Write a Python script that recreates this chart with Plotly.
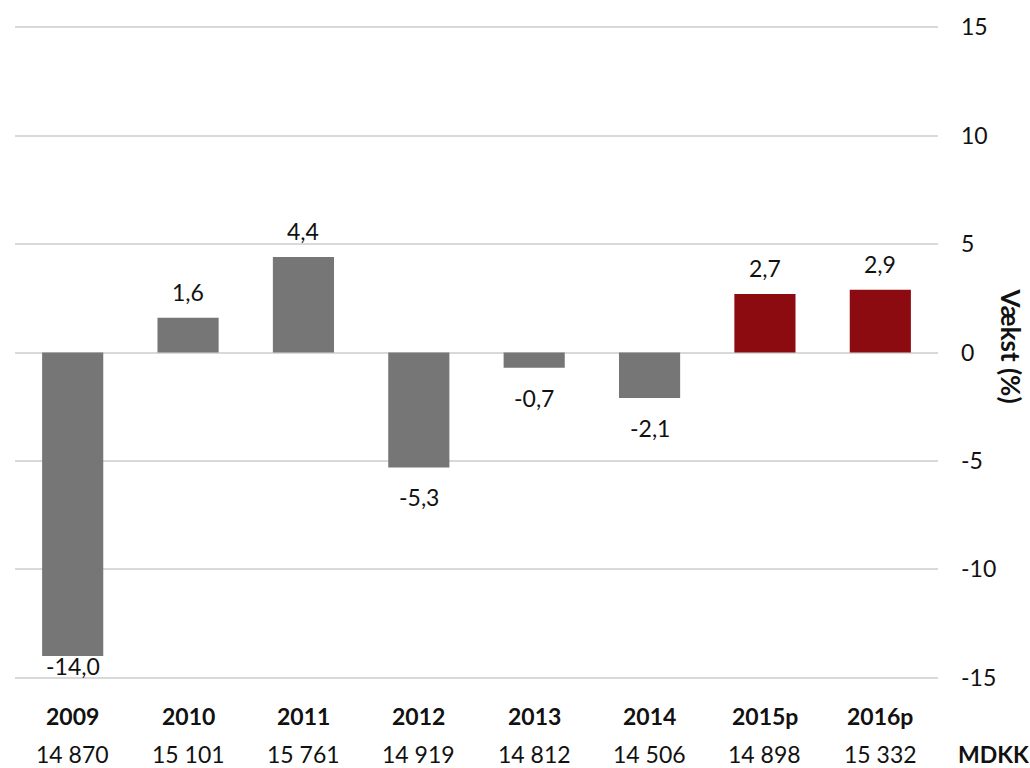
import plotly.graph_objects as go

# Årlig vækst (%) og niveau i MDKK
years = ["2009", "2010", "2011", "2012", "2013", "2014", "2015p", "2016p"]
growth = [-14.0, 1.6, 4.4, -5.3, -0.7, -2.1, 2.7, 2.9]
levels = ["14 870", "15 101", "15 761", "14 919", "14 812", "14 506", "14 898", "15 332"]
forecast = [False, False, False, False, False, False, True, True]
y_ticks = [-15, -10, -5, 0, 5, 10, 15]
y_ticktext = ["-15", "-10", "-5", "0", "5", "10", "15"]

FONT = "Lato"
TXT = "#111111"
GRAY = "#767676"
RED = "#8c0b11"
FS = 23

W, H = 1030, 768
M = dict(l=15, r=92, t=24, b=89)
y_min, y_max = -15, 15
pad = 0.06
px_per_unit = (H - M["t"] - M["b"]) / (y_max - y_min + 2 * pad)

fig = go.Figure()
fig.add_trace(go.Bar(
    x=years,
    y=growth,
    width=0.53,
    marker=dict(color=[RED if f else GRAY for f in forecast], line=dict(width=0)),
    hoverinfo="skip",
))

annotations = []
# value labels (Danish decimal comma); negative ones are kept inside the plot area
for i, v in enumerate(growth):
    txt = f"{v:.1f}".replace(".", ",")
    if v >= 0:
        annotations.append(dict(x=i, y=v, xref="x", yref="y", text=txt, showarrow=False,
                                yanchor="middle", yshift=26,
                                font=dict(family=FONT, size=FS, color=TXT)))
    else:
        y_lab = max(v - 30 / px_per_unit, y_min + 12 / px_per_unit)
        annotations.append(dict(x=i, y=y_lab, xref="x", yref="y", text=txt, showarrow=False,
                                yanchor="middle",
                                font=dict(family=FONT, size=FS, color=TXT)))

# category rows below the plot
for i, (yr, lv) in enumerate(zip(years, levels)):
    annotations.append(dict(x=i, y=0, xref="x", yref="paper", text=f"<b>{yr}</b>",
                            showarrow=False, yanchor="middle", yshift=-37,
                            font=dict(family=FONT, size=FS, color=TXT)))
    annotations.append(dict(x=i, y=0, xref="x", yref="paper", text=lv,
                            showarrow=False, yanchor="middle", yshift=-75,
                            font=dict(family=FONT, size=FS, color=TXT)))
annotations.append(dict(x=1, y=0, xref="paper", yref="paper", text="<b>MDKK</b>",
                        showarrow=False, xanchor="center", yanchor="middle",
                        xshift=55, yshift=-75,
                        font=dict(family=FONT, size=FS, color=TXT)))
# axis title, reading top to bottom
annotations.append(dict(x=1, y=0.5, xref="paper", yref="paper", text="<b>Vækst (%)</b>",
                        showarrow=False, textangle=90, xanchor="center", yanchor="middle",
                        xshift=73, yshift=7,
                        font=dict(family=FONT, size=26, color=TXT)))

fig.update_layout(
    width=W,
    height=H,
    margin=M,
    paper_bgcolor="white",
    plot_bgcolor="white",
    showlegend=False,
    annotations=annotations,
    xaxis=dict(type="category", categoryorder="array", categoryarray=years,
               range=[-0.5, len(years) - 0.5], autorange=False,
               showticklabels=False, showgrid=False, zeroline=False, showline=False,
               ticks=""),
    yaxis=dict(range=[y_min - pad, y_max + pad], autorange=False, side="right",
               tickvals=y_ticks, ticktext=y_ticktext,
               showgrid=True, gridcolor="#d9d9d9", gridwidth=1.5,
               zeroline=True, zerolinecolor="#d9d9d9", zerolinewidth=1.5,
               showline=False, ticks="", ticklabelstandoff=22,
               tickfont=dict(family=FONT, size=FS, color=TXT)),
)

fig.write_html("out.html")
